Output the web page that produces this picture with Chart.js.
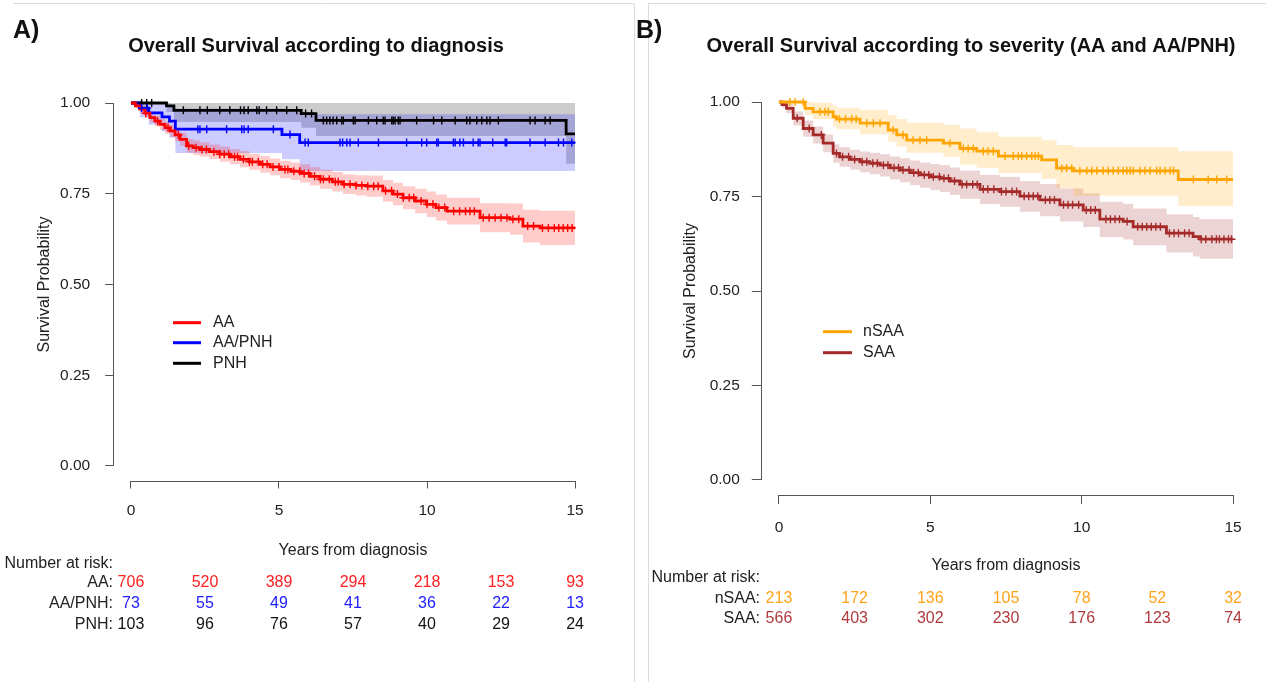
<!DOCTYPE html>
<html>
<head>
<meta charset="utf-8">
<script src="https://cdn.jsdelivr.net/npm/chart.js@4.4.1/dist/chart.umd.min.js"></script>
<style>
  html, body { margin: 0; padding: 0; background: #fff; }
  #wrap { position: relative; width: 1266px; height: 682px; overflow: hidden; }
  canvas { position: absolute; left: 0; top: 0; }
</style>
</head>
<body>
<div id="wrap">
  <canvas id="chartA" width="1266" height="682"></canvas>
  <canvas id="chartB" width="1266" height="682"></canvas>
</div>
<script>
/* ---- data ---- */
const xTicks = [0, 5, 10, 15];
const yTicks = [0, 0.25, 0.5, 0.75, 1];
const riskTimes = [0, 2.5, 5, 7.5, 10, 12.5, 15];

// Panel A: AA
const aaTime  = [0, 0.15, 0.3, 0.47, 0.64, 0.81, 0.98, 1.15, 1.32, 1.49, 1.66, 1.88, 2.1, 2.33, 2.65, 3.0, 3.35, 3.68, 4.0, 4.36, 4.7, 5.03, 5.4, 5.71, 6.05, 6.39, 6.8, 7.16, 7.6, 7.96, 8.51, 8.85, 9.19, 9.6, 9.99, 10.3, 10.67, 11.79, 12.8, 13.24, 13.82, 15];
const aaSurv  = [1, 0.992, 0.983, 0.972, 0.960, 0.950, 0.941, 0.932, 0.923, 0.912, 0.900, 0.882, 0.877, 0.872, 0.866, 0.859, 0.852, 0.845, 0.838, 0.831, 0.824, 0.817, 0.812, 0.806, 0.798, 0.790, 0.783, 0.776, 0.773, 0.771, 0.758, 0.749, 0.739, 0.730, 0.721, 0.712, 0.702, 0.684, 0.680, 0.661, 0.656, 0.656];
const aaUpper = [1, 0.998, 0.993, 0.984, 0.973, 0.965, 0.957, 0.949, 0.940, 0.930, 0.918, 0.901, 0.897, 0.892, 0.886, 0.880, 0.873, 0.867, 0.860, 0.854, 0.847, 0.841, 0.836, 0.831, 0.823, 0.816, 0.810, 0.803, 0.801, 0.800, 0.788, 0.780, 0.771, 0.764, 0.756, 0.748, 0.739, 0.724, 0.723, 0.706, 0.703, 0.703];
const aaLower = [1, 0.986, 0.973, 0.960, 0.947, 0.935, 0.925, 0.915, 0.906, 0.894, 0.882, 0.863, 0.857, 0.852, 0.846, 0.838, 0.831, 0.823, 0.816, 0.808, 0.801, 0.793, 0.788, 0.781, 0.773, 0.764, 0.756, 0.749, 0.745, 0.742, 0.728, 0.718, 0.707, 0.696, 0.686, 0.676, 0.665, 0.644, 0.637, 0.616, 0.609, 0.609];
const aaCensor = [0.5, 0.9, 1.25, 1.6, 1.95, 2.2, 2.4, 2.55, 2.8, 3.0, 3.15, 3.3, 3.5, 3.6, 3.8, 4.0, 4.1, 4.3, 4.45, 4.6, 4.8, 5.0, 5.2, 5.3, 5.5, 5.7, 5.85, 6.0, 6.2, 6.4, 6.5, 6.7, 6.9, 7.0, 7.2, 7.4, 7.6, 7.8, 8.0, 8.2, 8.35, 8.6, 8.8, 9.0, 9.2, 9.4, 9.55, 9.8, 10.0, 10.2, 10.4, 10.6, 10.9, 11.1, 11.3, 11.45, 11.6, 11.9, 12.1, 12.3, 12.5, 12.7, 12.9, 13.1, 13.4, 13.6, 13.9, 14.1, 14.3, 14.45, 14.6, 14.75, 14.9];

// Panel A: AA/PNH
const apTime  = [0, 0.3, 0.6, 1.05, 1.3, 1.5, 5.1, 5.7, 15];
const apSurv  = [1, 0.986, 0.973, 0.962, 0.950, 0.928, 0.913, 0.891, 0.891];
const apUpper = [1, 1, 1, 1, 0.995, 0.985, 0.978, 0.969, 0.969];
const apLower = [1, 0.96, 0.94, 0.922, 0.905, 0.862, 0.845, 0.813, 0.813];
const apCensor = [0.36, 0.55, 2.26, 2.33, 2.56, 3.23, 3.74, 3.82, 3.96, 4.81, 5.37, 5.88, 5.99, 7.06, 7.15, 7.29, 7.4, 7.68, 8.36, 9.31, 9.82, 9.99, 10.33, 10.38, 10.89, 10.95, 11.11, 11.23, 11.56, 11.73, 11.79, 12.22, 12.64, 12.69, 13.48, 13.99, 14.44, 14.61, 14.89];

// Panel A: PNH
const pnhTime  = [0, 1.2, 1.45, 5.75, 6.25, 14.7, 15];
const pnhSurv  = [1, 0.992, 0.980, 0.971, 0.952, 0.915, 0.915];
const pnhUpper = [1, 1, 1, 1, 1, 1, 1];
const pnhLower = [1, 0.975, 0.948, 0.932, 0.909, 0.833, 0.833];
const pnhCensor = [0.36, 0.53, 0.7, 1.77, 2.33, 2.58, 3.0, 3.34, 3.7, 3.82, 3.96, 4.25, 4.33, 4.58, 4.92, 5.26, 5.6, 5.9, 6.1, 6.5, 6.61, 6.72, 6.83, 6.95, 7.12, 7.17, 7.51, 7.57, 8.02, 8.3, 8.52, 8.58, 8.81, 8.86, 8.92, 9.03, 9.09, 9.65, 10.22, 10.5, 10.95, 11.34, 11.45, 11.68, 11.85, 12.02, 12.13, 12.41, 13.48, 13.65, 13.99, 14.16];

// Panel B: nSAA
const nsTime  = [0, 0.86, 1.13, 1.79, 1.9, 2.68, 3.61, 3.89, 4.22, 5.43, 5.98, 6.53, 7.25, 8.68, 9.17, 9.72, 13.19, 15];
const nsSurv  = [1, 0.983, 0.974, 0.961, 0.955, 0.944, 0.926, 0.913, 0.899, 0.891, 0.877, 0.870, 0.857, 0.847, 0.825, 0.818, 0.795, 0.795];
const nsUpper = [1, 1, 0.998, 0.99, 0.985, 0.979, 0.965, 0.955, 0.945, 0.94, 0.93, 0.92, 0.908, 0.899, 0.886, 0.88, 0.87, 0.87];
const nsLower = [1, 0.965, 0.955, 0.935, 0.928, 0.915, 0.895, 0.882, 0.866, 0.855, 0.835, 0.826, 0.812, 0.797, 0.772, 0.752, 0.725, 0.725];
const nsCensor = [0.36, 0.53, 0.8, 1.35, 1.52, 1.63, 2.0, 2.2, 2.4, 2.55, 2.9, 3.12, 3.34, 3.77, 4.1, 4.43, 4.66, 4.88, 5.65, 6.09, 6.25, 6.42, 6.75, 6.91, 7.08, 7.47, 7.74, 7.91, 8.02, 8.18, 8.35, 8.46, 8.57, 9.34, 9.5, 9.67, 9.94, 10.17, 10.33, 10.5, 10.71, 10.88, 11.04, 11.21, 11.37, 11.49, 11.6, 11.7, 11.93, 12.09, 12.26, 12.48, 12.59, 12.75, 12.92, 13.03, 13.69, 14.18, 14.46, 14.79];

// Panel B: SAA
const saTime  = [0, 0.1, 0.25, 0.47, 0.8, 1.13, 1.46, 1.79, 2.0, 2.35, 2.68, 3.0, 3.34, 3.67, 4.0, 4.33, 4.66, 5.0, 5.32, 5.65, 5.98, 6.64, 7.3, 7.96, 8.62, 9.28, 10.05, 10.6, 11.37, 11.7, 12.8, 13.68, 13.9, 15];
const saSurv  = [1, 0.993, 0.983, 0.957, 0.930, 0.913, 0.891, 0.864, 0.855, 0.848, 0.842, 0.838, 0.833, 0.826, 0.820, 0.813, 0.807, 0.802, 0.798, 0.791, 0.782, 0.769, 0.763, 0.751, 0.741, 0.728, 0.714, 0.690, 0.684, 0.670, 0.653, 0.644, 0.637, 0.637];
const saUpper = [1, 1, 0.995, 0.975, 0.951, 0.935, 0.914, 0.888, 0.880, 0.874, 0.869, 0.866, 0.862, 0.856, 0.851, 0.845, 0.840, 0.836, 0.833, 0.827, 0.819, 0.807, 0.802, 0.791, 0.783, 0.771, 0.758, 0.736, 0.731, 0.718, 0.703, 0.696, 0.690, 0.690];
const saLower = [1, 0.985, 0.97, 0.938, 0.908, 0.89, 0.867, 0.839, 0.829, 0.821, 0.814, 0.809, 0.803, 0.795, 0.788, 0.780, 0.773, 0.767, 0.762, 0.754, 0.744, 0.730, 0.723, 0.710, 0.698, 0.684, 0.669, 0.643, 0.636, 0.621, 0.602, 0.591, 0.585, 0.585];
const saCensor = [0.6, 1.0, 1.4, 1.9, 2.1, 2.3, 2.5, 2.75, 2.9, 3.1, 3.25, 3.45, 3.6, 3.8, 3.95, 4.1, 4.3, 4.45, 4.6, 4.8, 4.95, 5.1, 5.3, 5.45, 5.6, 5.8, 6.05, 6.2, 6.4, 6.55, 6.75, 6.9, 7.1, 7.35, 7.5, 7.7, 7.85, 8.1, 8.25, 8.4, 8.55, 8.8, 8.95, 9.1, 9.4, 9.55, 9.7, 9.9, 10.15, 10.3, 10.45, 10.8, 10.95, 11.1, 11.25, 11.5, 11.85, 12.0, 12.15, 12.3, 12.45, 12.6, 12.9, 13.05, 13.2, 13.4, 13.55, 13.95, 14.1, 14.3, 14.45, 14.55, 14.7, 14.85, 14.95];

// numbers at risk
const riskAA    = [706, 520, 389, 294, 218, 153, 93];
const riskAAPNH = [73, 55, 49, 41, 36, 22, 13];
const riskPNH   = [103, 96, 76, 57, 40, 29, 24];
const riskNSAA  = [213, 172, 136, 105, 78, 52, 32];
const riskSAA   = [566, 403, 302, 230, 176, 123, 74];

const FONT = "'Liberation Sans', Arial, sans-serif";
Chart.defaults.font.family = FONT;

// survival level of a step curve at time t (used to sit censor marks on the curve)
function stepAt(times, surv, t) {
  let s = surv[0];
  for (let i = 0; i < times.length; i++) if (times[i] <= t) s = surv[i];
  return s;
}

function kmSets(label, color, band, times, surv, lower, upper, censor) {
  const pts = (ys) => times.map((t, i) => ({ x: t, y: ys[i] }));
  const none = 'rgba(0,0,0,0)';
  return [
    { label, data: pts(surv), borderColor: color, borderWidth: 2.8, stepped: 'before', pointRadius: 0, fill: false, order: 2, isCurve: true },
    { data: pts(upper), borderColor: none, borderWidth: 0, stepped: 'before', pointRadius: 0, backgroundColor: band, fill: '+1', order: 3 },
    { data: pts(lower), borderColor: none, borderWidth: 0, stepped: 'before', pointRadius: 0, fill: false, order: 3 },
    { data: censor.map((t) => ({ x: t, y: stepAt(times, surv, t) })), showLine: false, pointStyle: 'cross',
      pointRadius: 4, borderColor: color, borderWidth: 1.4, order: 1 },
  ];
}

function axes(tickLen, yPad, xPad) {
  const grid = { display: true, drawOnChartArea: false, drawTicks: true, tickLength: tickLen, color: '#555', lineWidth: 1 };
  return {
    x: {
      type: 'linear', min: -0.6, max: 15.6,
      afterBuildTicks: (s) => { s.ticks = xTicks.map((v) => ({ value: v })); },
      afterFit: (s) => { s.height = 50; },
      grid, border: { display: false },
      ticks: { color: '#222', font: { size: 15.5 }, padding: xPad, maxRotation: 0 },
    },
    y: {
      type: 'linear', min: -0.04, max: 1.04,
      afterBuildTicks: (s) => { s.ticks = yTicks.map((v) => ({ value: v })); },
      afterFit: (s) => { s.width = 60; },
      grid, border: { display: false },
      ticks: { color: '#222', font: { size: 15.5 }, padding: yPad, callback: (v) => v.toFixed(2) },
    },
  };
}

function decoPlugin(p) {
  return {
    id: 'deco',
    afterDraw(chart) {
      const { ctx, chartArea: a, scales: { x, y } } = chart;
      ctx.save();
      // frame lines of the panel
      ctx.strokeStyle = '#dcdcdc'; ctx.lineWidth = 1;
      ctx.beginPath();
      p.frame.forEach((l) => { ctx.moveTo(l[0], l[1]); ctx.lineTo(l[2], l[3]); });
      ctx.stroke();
      // R style axis lines, spanning the tick range only
      ctx.strokeStyle = '#555';
      ctx.beginPath();
      const lx = Math.round(a.left) + 0.5, by = Math.round(a.bottom) + 0.5;
      ctx.moveTo(lx, y.getPixelForValue(0)); ctx.lineTo(lx, y.getPixelForValue(1));
      ctx.moveTo(x.getPixelForValue(0), by); ctx.lineTo(x.getPixelForValue(15), by);
      ctx.stroke();

      ctx.fillStyle = '#111';
      ctx.textBaseline = 'middle';
      ctx.font = 'bold 25px ' + FONT; ctx.textAlign = 'left';
      ctx.fillText(p.panel, p.panelX, 31);
      ctx.font = 'bold 20px ' + FONT; ctx.textAlign = 'center';
      ctx.fillText(p.title, p.titleX, 46);

      ctx.fillStyle = '#222';
      ctx.font = '16px ' + FONT;
      ctx.fillText('Years from diagnosis', (a.left + a.right) / 2, p.xTitleY);
      ctx.save();
      ctx.translate(p.yTitleX, (a.top + a.bottom) / 2);
      ctx.rotate(-Math.PI / 2);
      ctx.fillText('Survival Probability', 0, 0);
      ctx.restore();

      // legend
      const curves = chart.data.datasets.filter((d) => d.isCurve);
      curves.forEach((d, i) => {
        const ly = p.legend.ys[i];
        ctx.strokeStyle = d.borderColor; ctx.lineWidth = 3;
        ctx.beginPath(); ctx.moveTo(p.legend.x0, ly); ctx.lineTo(p.legend.x1, ly); ctx.stroke();
        ctx.fillStyle = '#222'; ctx.textAlign = 'left';
        ctx.fillText(d.label, p.legend.tx, ly);
      });

      // number at risk table
      ctx.textAlign = 'right'; ctx.fillStyle = '#222';
      ctx.fillText('Number at risk:', p.risk.right, p.risk.headerY);
      p.risk.rows.forEach((r, i) => {
        const ry = p.risk.ys[i];
        ctx.textAlign = 'right'; ctx.fillStyle = '#222';
        ctx.fillText(r.name + ':', p.risk.right, ry);
        ctx.textAlign = 'center'; ctx.fillStyle = r.color;
        r.values.forEach((v, j) => ctx.fillText(String(v), x.getPixelForValue(riskTimes[j]), ry));
      });
      ctx.restore();
    },
  };
}

function makeChart(id, datasets, padding, tickLen, yPad, xPad, deco) {
  return new Chart(document.getElementById(id), {
    type: 'line',
    data: { datasets },
    options: {
      responsive: false, animation: false, events: [],
      layout: { padding },
      plugins: { legend: { display: false }, tooltip: { enabled: false } },
      scales: axes(tickLen, yPad, xPad),
    },
    plugins: [decoPlugin(deco)],
  });
}

makeChart('chartA',
  [].concat(
    kmSets('AA', '#ff0000', 'rgba(255,0,0,0.2)', aaTime, aaSurv, aaLower, aaUpper, aaCensor),
    kmSets('AA/PNH', '#0000ff', 'rgba(0,0,255,0.2)', apTime, apSurv, apLower, apUpper, apCensor),
    kmSets('PNH', '#000000', 'rgba(0,0,0,0.2)', pnhTime, pnhSurv, pnhLower, pnhUpper, pnhCensor)
  ),
  { left: 53.2, right: 673.2, top: 88.5, bottom: 151.5 }, 8, 15, 12.5,
  {
    panel: 'A)', panelX: 13, title: 'Overall Survival according to diagnosis', titleX: 316,
    xTitleY: 551, yTitleX: 45,
    frame: [[13, 3.5, 634, 3.5], [634.5, 3.5, 634.5, 682]],
    legend: { x0: 173, x1: 201, tx: 213, ys: [322.7, 342.7, 363.3] },
    risk: {
      right: 113, headerY: 564, ys: [583, 604, 625],
      rows: [
        { name: 'AA', color: '#ff2020', values: riskAA },
        { name: 'AA/PNH', color: '#2020ff', values: riskAAPNH },
        { name: 'PNH', color: '#111111', values: riskPNH },
      ],
    },
  });

makeChart('chartB',
  [].concat(
    kmSets('nSAA', '#ffa500', 'rgba(255,165,0,0.2)', nsTime, nsSurv, nsLower, nsUpper, nsCensor),
    kmSets('SAA', '#a52a2a', 'rgba(165,42,42,0.2)', saTime, saSurv, saLower, saUpper, saCensor)
  ),
  { left: 700.8, right: 14.8, top: 86.9, bottom: 136.9 }, 9, 12, 14,
  {
    panel: 'B)', panelX: 636, title: 'Overall Survival according to severity (AA and AA/PNH)', titleX: 971,
    xTitleY: 566, yTitleX: 691,
    frame: [[648, 3.5, 1266, 3.5], [648.5, 3.5, 648.5, 682]],
    legend: { x0: 823, x1: 852, tx: 863, ys: [331.7, 352.7] },
    risk: {
      right: 760, headerY: 578, ys: [599, 619],
      rows: [
        { name: 'nSAA', color: '#ffa31a', values: riskNSAA },
        { name: 'SAA', color: '#b03a3e', values: riskSAA },
      ],
    },
  });
</script>
</body>
</html>
